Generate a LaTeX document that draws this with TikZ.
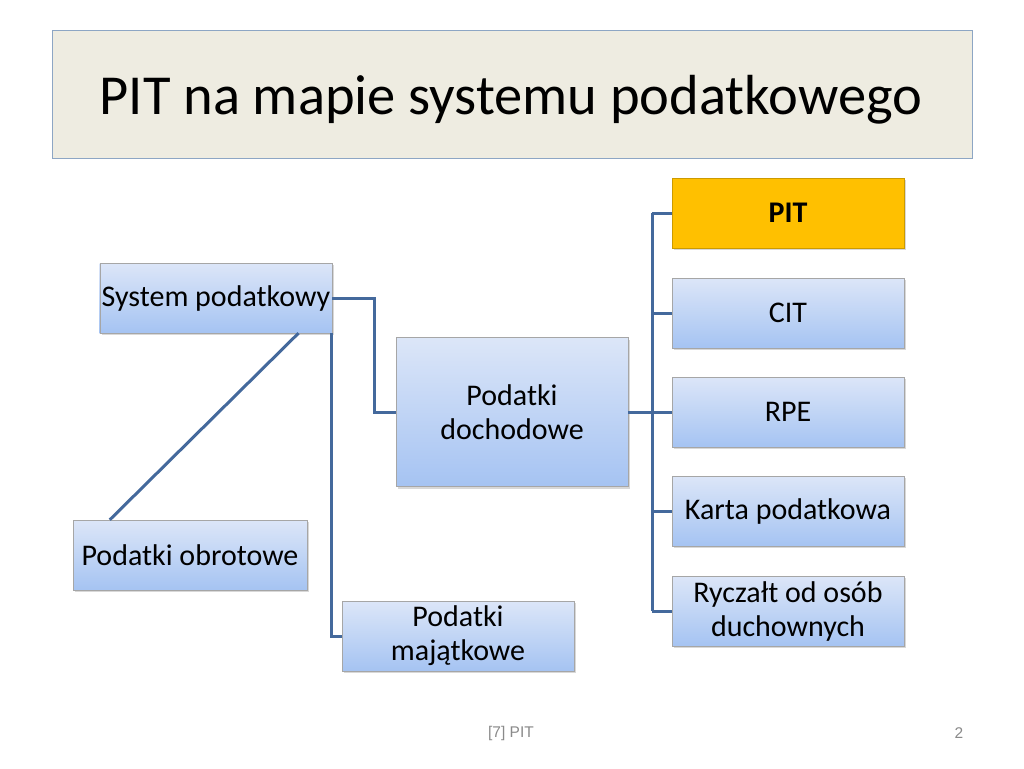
\documentclass[tikz,border=0pt]{standalone}
\usepackage{fontspec}
\setmainfont{Carlito}
\setsansfont{Liberation Sans}
\usetikzlibrary{shadows}
\definecolor{titlebg}{HTML}{EEECE1}
\definecolor{titleline}{HTML}{8DA6C4}
\definecolor{linkblue}{HTML}{44699C}
\definecolor{boxtop}{HTML}{DCE6F8}
\definecolor{boxbottom}{HTML}{A5C3F2}
\definecolor{pitgold}{HTML}{FFC000}
\definecolor{footgray}{HTML}{8A8A8A}

\begin{document}
\begin{tikzpicture}[x=1pt, y=-1pt,
    box/.style={draw=gray!70, top color=boxtop, bottom color=boxbottom,
      minimum width=232pt, minimum height=70pt, inner sep=2pt, align=center,
      font=\fontsize{30}{34}\selectfont,
      drop shadow={shadow xshift=2pt, shadow yshift=-2pt, opacity=0.3}},
    link/.style={linkblue, line width=3pt}]
    \useasboundingbox[fill=white] (0,0) rectangle (1024,768);
    % Title
    \draw[titleline, fill=titlebg] (52,30) rectangle (972,158);
    \node[font=\fontsize{56.5}{64}\selectfont] (title) at (511,100) {PIT na mapie systemu podatkowego};

    % Boxes
    \node[box] (sys) at (216,298) {System podatkowy};
    \node[box, minimum height=149pt] (doch) at (512,412) {Podatki\\dochodowe};
    \node[box, minimum width=234pt] (obr) at (190,555) {Podatki obrotowe};
    \node[box] (maj) at (458,636) {Podatki\\majątkowe};
    \node[box, top color=pitgold, bottom color=pitgold, draw=pitgold!80!black,
      font=\fontsize{30}{34}\selectfont\bfseries] (pit) at (788,213) {PIT};
    \node[box] (cit) at (788,313) {CIT};
    \node[box] (rpe) at (788,412) {RPE};
    \node[box] (karta) at (788,511) {Karta podatkowa};
    \node[box] (rycz) at (788,611) {Ryczałt od osób\\duchownych};

    % Links
    \draw[link] (sys.east) -- ++(42,0) |- (doch.west);
    \draw[link] ([xshift=-1pt]sys.south east) |- (maj.west);
    \draw[link] ([xshift=-34pt]sys.south east) -- ([xshift=37pt]obr.north west);
    \draw[link] (doch.east) -- ++(24,0) coordinate (fork);
    \foreach \n in {pit,cit,rpe,karta,rycz}
      \draw[link] (fork |- pit.west) -- (fork |- rycz.west) (fork |- \n.west) -- (\n.west);

    % Footer
    \node[font=\sffamily\fontsize{15.5}{18}\selectfont, text=footgray] (src) at (511,733) {[7] PIT};
    \node[font=\sffamily\fontsize{15.5}{18}\selectfont, text=footgray] (page) at (959,733) {2};
  \end{tikzpicture}
\end{document}
